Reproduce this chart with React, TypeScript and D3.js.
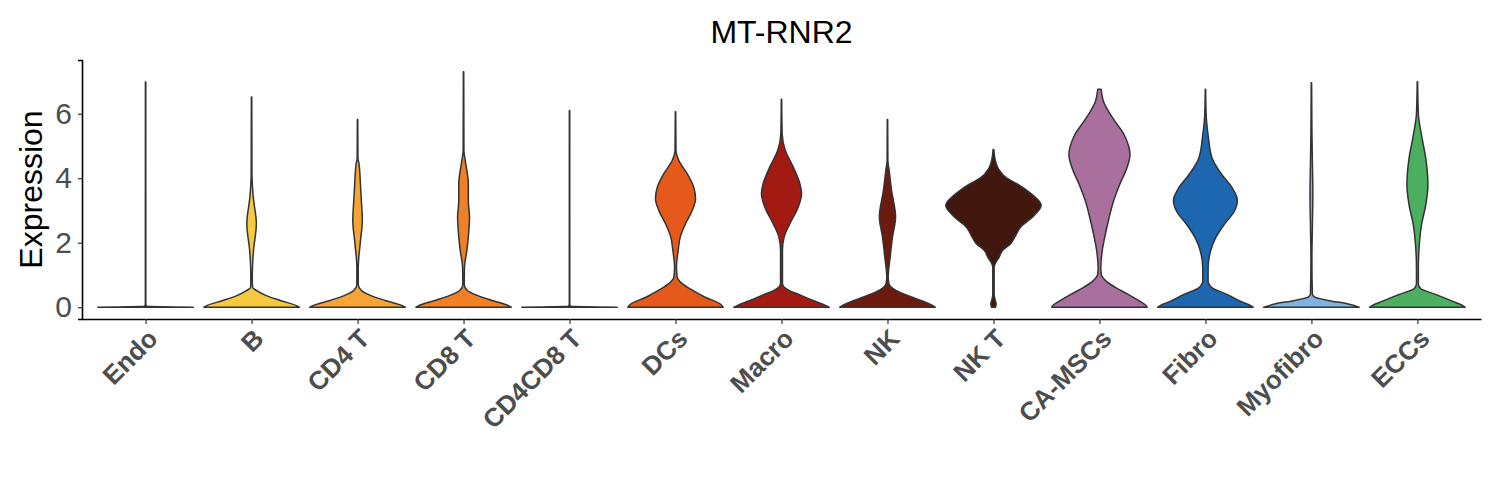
import * as d3 from "d3";
import { useEffect, useRef } from "react";

// cell types along the x axis
const categories = [
  "Endo", "B", "CD4 T", "CD8 T", "CD4CD8 T", "DCs", "Macro",
  "NK", "NK T", "CA-MSCs", "Fibro", "Myofibro", "ECCs",
];

const fills = [
  "#C8463C", "#F6C940", "#F4A536", "#EE8126", "#D9502A", "#E55A1A", "#A31A12",
  "#6D1A0F", "#42180E", "#A9709E", "#1C67B0", "#7FB2E0", "#4CAF5F",
];

const yTicks = [0, 2, 4, 6];

// violin outlines: [expression, relative half-width]
const endoProfile = [[0, 1], [0.03, 0.02], [0.1, 0.005], [6.98, 0.004]];
const bProfile = [[0, 1], [0.05, 0.94], [0.21, 0.6], [0.36, 0.31], [0.52, 0.1], [0.62, 0.02], [0.93, 0.015], [1.76, 0.04], [2.59, 0.1], [3.42, 0.035], [4.14, 0.008], [6.52, 0.004]];
const cd4Profile = [[0, 1], [0.05, 0.94], [0.21, 0.58], [0.36, 0.28], [0.52, 0.08], [0.7, 0.015], [1.24, 0.015], [1.97, 0.055], [2.7, 0.1], [3.3, 0.08], [3.83, 0.06], [4.45, 0.03], [4.63, 0.008], [5.82, 0.004]];
const cd8Profile = [[0, 1], [0.05, 0.94], [0.21, 0.6], [0.36, 0.3], [0.52, 0.08], [0.7, 0.015], [1.24, 0.02], [1.76, 0.07], [2.18, 0.1], [2.8, 0.125], [3.3, 0.1], [3.83, 0.1], [4.55, 0.035], [4.86, 0.008], [7.3, 0.004]];
const cd4cd8Profile = [[0, 1], [0.03, 0.02], [0.1, 0.005], [6.1, 0.004]];
const dcsProfile = [[0, 1], [0.1, 0.94], [0.31, 0.62], [0.52, 0.36], [0.73, 0.14], [0.93, 0.035], [1.24, 0.02], [1.76, 0.056], [2.18, 0.1], [2.59, 0.21], [3.0, 0.35], [3.36, 0.42], [3.73, 0.38], [4.14, 0.245], [4.55, 0.07], [4.86, 0.01], [6.06, 0.004]];
const macroProfile = [[0, 1], [0.05, 0.93], [0.21, 0.66], [0.36, 0.42], [0.57, 0.1], [0.73, 0.02], [1.76, 0.02], [2.18, 0.056], [2.59, 0.175], [3.1, 0.35], [3.52, 0.42], [3.83, 0.385], [4.35, 0.245], [4.86, 0.08], [5.38, 0.014], [6.45, 0.004]];
const nkProfile = [[0, 1], [0.1, 0.88], [0.31, 0.52], [0.52, 0.175], [0.73, 0.03], [0.93, 0.015], [1.55, 0.056], [2.18, 0.105], [2.8, 0.17], [3.62, 0.085], [4.24, 0.035], [4.55, 0.008], [5.82, 0.004]];
const nktProfile = [[0, 0.04], [0.1, 0.056], [0.25, 0.03], [0.4, 0.014], [1.24, 0.014], [1.35, 0.035], [1.55, 0.12], [1.76, 0.19], [1.97, 0.36], [2.18, 0.45], [2.49, 0.57], [2.8, 0.82], [3.16, 1], [3.42, 0.87], [3.62, 0.7], [3.83, 0.49], [4.0, 0.28], [4.3, 0.1], [4.63, 0.028], [4.89, 0.008]];
const camscProfile = [[0, 1], [0.05, 0.98], [0.19, 0.84], [0.4, 0.6], [0.6, 0.35], [0.81, 0.14], [1.0, 0.04], [1.22, 0.028], [1.73, 0.056], [2.24, 0.12], [2.76, 0.2], [3.27, 0.29], [3.79, 0.42], [4.3, 0.57], [4.72, 0.64], [5.34, 0.52], [5.86, 0.28], [6.38, 0.085], [6.76, 0.035]];
const fibroProfile = [[0, 1], [0.05, 0.95], [0.19, 0.73], [0.4, 0.45], [0.6, 0.14], [0.81, 0.056], [1.22, 0.056], [1.73, 0.105], [2.14, 0.21], [2.55, 0.385], [2.96, 0.6], [3.32, 0.67], [3.7, 0.56], [4.1, 0.35], [4.62, 0.14], [5.34, 0.056], [6.0, 0.014], [6.76, 0.004]];
const myofibroProfile = [[0, 1], [0.1, 0.77], [0.21, 0.35], [0.31, 0.07], [0.4, 0.02], [1.5, 0.01], [2.5, 0.02], [3.5, 0.03], [4.5, 0.02], [5.5, 0.01], [6.96, 0.004]];
const eccsProfile = [[0, 1], [0.05, 0.95], [0.19, 0.73], [0.4, 0.38], [0.57, 0.07], [0.73, 0.02], [1.22, 0.02], [1.94, 0.04], [2.55, 0.085], [3.17, 0.175], [3.79, 0.22], [4.62, 0.175], [5.34, 0.085], [6.0, 0.02], [6.99, 0.004]];

const profiles = [
  endoProfile, bProfile, cd4Profile, cd8Profile, cd4cd8Profile, dcsProfile, macroProfile,
  nkProfile, nktProfile, camscProfile, fibroProfile, myofibroProfile, eccsProfile,
];

const FONT = "'Liberation Sans', Arial, Helvetica, sans-serif";

function ViolinChart() {
  const ref = useRef<SVGSVGElement | null>(null);

  useEffect(() => {
    const el = ref.current;
    if (!el) return;
    const svg = d3.select(el);
    svg.selectAll("*").remove();

    const W = 1500;
    const H = 500;
    const margin = { top: 60, right: 19, bottom: 181, left: 82 };
    const iw = W - margin.left - margin.right;
    const ih = H - margin.top - margin.bottom;

    const x = d3.scalePoint<string>().domain(categories).range([0, iw]).padding(0.6);
    const yMax = 7.3;
    const y = d3.scaleLinear().domain([-0.05 * yMax, yMax * 1.05]).range([ih, 0]);
    const halfW = (x.step() * 0.9) / 2;

    svg.attr("width", W).attr("height", H).attr("viewBox", `0 0 ${W} ${H}`);

    const g = svg.append("g").attr("transform", `translate(${margin.left},${margin.top})`);

    // violins
    categories.forEach((cat, i) => {
      const cx = x(cat) ?? 0;
      const pts = profiles[i].map(([v, w]) => ({ v, w }));
      const area = d3
        .area<{ v: number; w: number }>()
        .y((d) => y(d.v))
        .x0((d) => cx - d.w * halfW)
        .x1((d) => cx + d.w * halfW)
        .curve(d3.curveMonotoneY);
      g.append("path")
        .attr("d", area(pts) ?? "")
        .attr("fill", fills[i])
        .attr("stroke", "#333333")
        .attr("stroke-width", 1.5)
        .attr("stroke-linejoin", "round");
    });

    // y axis
    const yAxis = g
      .append("g")
      .call(d3.axisLeft(y).tickValues(yTicks).tickSize(4).tickPadding(6).tickFormat(d3.format("d")));
    yAxis.select(".domain").attr("stroke", "#000").attr("stroke-width", 1.6);
    yAxis.selectAll(".tick line").attr("stroke", "#333").attr("stroke-width", 1.2);
    yAxis
      .selectAll(".tick text")
      .attr("fill", "#4d4d4d")
      .attr("font-size", 30)
      .attr("font-family", FONT);

    // x axis
    const xAxis = g
      .append("g")
      .attr("transform", `translate(0,${ih})`)
      .call(d3.axisBottom(x).tickSize(5).tickSizeOuter(0));
    xAxis.select(".domain").attr("stroke", "#000").attr("stroke-width", 1.6);
    xAxis.selectAll(".tick line").attr("stroke", "#333").attr("stroke-width", 1.2);
    xAxis
      .selectAll<SVGTextElement, string>(".tick text")
      .attr("fill", "#4d4d4d")
      .attr("font-size", 26)
      .attr("font-weight", "bold")
      .attr("font-family", FONT)
      .attr("text-anchor", "end")
      .attr("x", 0)
      .attr("y", 0)
      .attr("dy", "0.72em")
      .attr("transform", "translate(0,8) rotate(-45)");

    // title
    svg
      .append("text")
      .attr("x", margin.left + iw / 2)
      .attr("y", 43)
      .attr("text-anchor", "middle")
      .attr("font-size", 32)
      .attr("font-family", FONT)
      .attr("fill", "#000")
      .text("MT-RNR2");

    // y label
    svg
      .append("text")
      .attr("transform", `translate(42,${margin.top + ih / 2}) rotate(-90)`)
      .attr("text-anchor", "middle")
      .attr("font-size", 32)
      .attr("font-family", FONT)
      .attr("fill", "#000")
      .text("Expression");
  }, []);

  return <svg ref={ref} style={{ position: "absolute", left: 0, top: 0, background: "#fff" }} />;
}

export default function App() {
  return <ViolinChart />;
}
